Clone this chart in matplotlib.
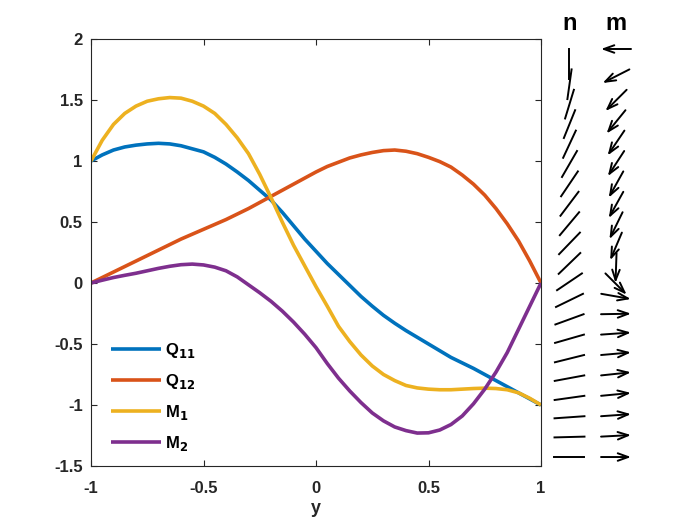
import numpy as np
import matplotlib.pyplot as plt

plt.rcParams['font.family'] = ['Liberation Sans', 'DejaVu Sans']
plt.rcParams['font.weight'] = 'bold'
plt.rcParams['axes.unicode_minus'] = False

ys = [-1.00, -0.95, -0.90, -0.85, -0.80, -0.75, -0.70, -0.65, -0.60, -0.55,
      -0.50, -0.45, -0.40, -0.35, -0.30, -0.25, -0.20, -0.15, -0.10, -0.05,
      0.00, 0.05, 0.10, 0.15, 0.20, 0.25, 0.30, 0.35, 0.40, 0.45,
      0.50, 0.55, 0.60, 0.65, 0.70, 0.75, 0.80, 0.85, 0.90, 0.95, 1.00]
Q11 = [1.00, 1.05, 1.09, 1.115, 1.13, 1.14, 1.145, 1.14, 1.125, 1.10,
       1.075, 1.03, 0.975, 0.91, 0.84, 0.76, 0.68, 0.58, 0.47, 0.36,
       0.26, 0.16, 0.07, -0.02, -0.11, -0.19, -0.265, -0.33, -0.39, -0.445,
       -0.50, -0.555, -0.61, -0.655, -0.70, -0.75, -0.80, -0.85, -0.90, -0.95, -1.00]
Q12 = [0.00, 0.045, 0.09, 0.135, 0.18, 0.225, 0.27, 0.315, 0.36, 0.40,
       0.44, 0.48, 0.52, 0.565, 0.61, 0.66, 0.71, 0.76, 0.81, 0.86,
       0.91, 0.955, 0.99, 1.025, 1.05, 1.07, 1.085, 1.09, 1.08, 1.06,
       1.03, 0.995, 0.95, 0.885, 0.81, 0.72, 0.61, 0.485, 0.345, 0.18, 0.00]
M1 = [1.00, 1.17, 1.30, 1.39, 1.45, 1.49, 1.51, 1.52, 1.515, 1.49,
      1.45, 1.39, 1.30, 1.19, 1.06, 0.89, 0.70, 0.50, 0.31, 0.14,
      -0.03, -0.19, -0.355, -0.48, -0.59, -0.68, -0.75, -0.80, -0.84, -0.86,
      -0.87, -0.875, -0.875, -0.87, -0.865, -0.862, -0.865, -0.875, -0.90, -0.945, -1.00]
M2 = [0.00, 0.023, 0.045, 0.063, 0.08, 0.10, 0.12, 0.137, 0.15, 0.155,
      0.148, 0.13, 0.10, 0.05, -0.015, -0.08, -0.15, -0.23, -0.32, -0.42,
      -0.53, -0.66, -0.78, -0.885, -0.98, -1.065, -1.13, -1.18, -1.21, -1.23,
      -1.228, -1.205, -1.16, -1.09, -0.99, -0.87, -0.73, -0.57, -0.38, -0.19, 0.00]

labels = ['Q$_{11}$', 'Q$_{12}$', 'M$_1$', 'M$_2$']
colors = ['#0072BD', '#D95319', '#EDB120', '#7E2F8E']

# director (n) and moment (m) angles in degrees, top row first
n_angle = [90, 82, 73, 68, 65, 60, 56, 53, 50, 46, 44,
           34, 26, 20, 16, 14, 10.5, 8, 4, 1.5, 0]
m_angle = [180, 207, 225, 231, 236, 237, 241, 241, 244, 247, 268,
           315, 350, 1, 4, 5, 6, 5.5, 4, 3, 0]

fig = plt.figure(figsize=(7, 5.25), dpi=100)
ax = fig.add_axes([91/700, 1 - 466/525, 450/700, 427/525])

for vals, lab, col in zip([Q11, Q12, M1, M2], labels, colors):
    ax.plot(ys, vals, color=col, lw=2.6, label=lab, solid_capstyle='butt')

ax.set_xlim(-1, 1)
ax.set_ylim(-1.5, 2)
ax.set_xticks([-1, -0.5, 0, 0.5, 1])
ax.set_xticklabels(['-1', '-0.5', '0', '0.5', '1'])
ax.set_yticks([-1.5, -1, -0.5, 0, 0.5, 1, 1.5, 2])
ax.set_yticklabels(['-1.5', '-1', '-0.5', '0', '0.5', '1', '1.5', '2'])
ax.tick_params(direction='in', top=True, right=True, length=4, width=0.8,
               labelsize=12, colors='#262626')
ax.tick_params(axis='x', pad=11)
ax.tick_params(axis='y', pad=6)
for s in ax.spines.values():
    s.set_color('#262626')
    s.set_linewidth(0.8)
ax.set_xlabel('y', fontsize=13, fontweight='bold', color='#262626', labelpad=3)

ax.legend(loc='lower left', bbox_to_anchor=(0.011, -0.004), frameon=False,
          fontsize=12, handlelength=3.0, labelspacing=0.72, handletextpad=0.25)

# side panel with the arrows
axq = fig.add_axes([545/700, 1 - 466/525, 100/700, 427/525])
axq.set_xlim(0, 0.49)
axq.set_ylim(-1.044, 1.049)
axq.axis('off')
rows = np.linspace(1, -1, len(n_angle))
L = 0.147
xn, xm = 0.120, 0.348
for r, a in zip(rows, n_angle):
    c, s = np.cos(np.radians(a)), np.sin(np.radians(a))
    axq.plot([xn + L*c/2, xn - L*c/2], [r, r - L*s], color='k', lw=1.4)
for r, a in zip(rows, m_angle):
    c, s = np.cos(np.radians(a)), np.sin(np.radians(a))
    x0 = xm - L*c/2
    axq.annotate('', xy=(x0 + L*c, r + L*s), xytext=(x0, r),
                 arrowprops=dict(arrowstyle='->,head_length=0.75,head_width=0.27',
                                 color='k', lw=1.4, shrinkA=0, shrinkB=0))
axq.text(xn, 1.125, 'n', ha='center', va='center', fontsize=17, fontweight='bold')
axq.text(xm, 1.125, 'm', ha='center', va='center', fontsize=17, fontweight='bold')

fig.savefig('out.png', dpi=100)
